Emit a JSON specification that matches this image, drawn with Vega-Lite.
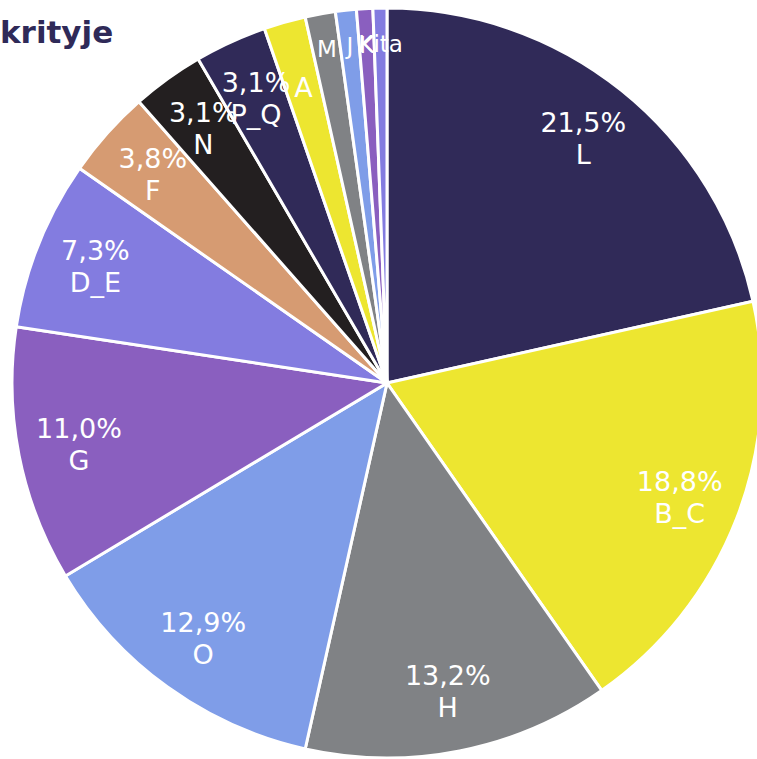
{
  "$schema": "https://vega.github.io/schema/vega-lite/v6.json",
  "autosize": "none",
  "padding": 0,
  "width": 774,
  "height": 766,
  "background": "white",
  "title": {"text": "krityje", "anchor": "start", "frame": "group", "orient": "top", "offset": -50, "font": "DejaVu Sans", "fontSize": 31, "fontWeight": "bold", "color": "#2f2a58"},
  "data": {"values": [
    {"name": "L", "pct": 21.5, "lab": "21,5%\nL", "ord": 1},
    {"name": "B_C", "pct": 18.8, "lab": "18,8%\nB_C", "ord": 2},
    {"name": "H", "pct": 13.2, "lab": "13,2%\nH", "ord": 3},
    {"name": "O", "pct": 12.9, "lab": "12,9%\nO", "ord": 4},
    {"name": "G", "pct": 11.0, "lab": "11,0%\nG", "ord": 5},
    {"name": "D_E", "pct": 7.3, "lab": "7,3%\nD_E", "ord": 6},
    {"name": "F", "pct": 3.8, "lab": "3,8%\nF", "ord": 7},
    {"name": "N", "pct": 3.1, "lab": "3,1%\nN", "ord": 8},
    {"name": "P_Q", "pct": 3.1, "lab": "3,1%\nP_Q", "ord": 9},
    {"name": "A", "pct": 1.8, "lab": "A", "ord": 10},
    {"name": "M", "pct": 1.3, "lab": "M", "ord": 11},
    {"name": "J", "pct": 0.9, "lab": "J", "ord": 12},
    {"name": "K", "pct": 0.7, "lab": "K", "ord": 13},
    {"name": "Kita", "pct": 0.6, "lab": "Kita", "ord": 14}
  ]},
  "encoding": {
    "theta": {"field": "pct", "type": "quantitative", "stack": true},
    "order": {"field": "ord", "type": "quantitative"}
  },
  "layer": [
    {
      "mark": {"type": "arc", "outerRadius": 375, "stroke": "white", "strokeWidth": 3},
      "encoding": {
        "color": {"field": "name", "type": "nominal", "legend": null,
          "scale": {
            "domain": ["L", "B_C", "H", "O", "G", "D_E", "F", "N", "P_Q", "A", "M", "J", "K", "Kita"],
            "range": ["#302a58", "#ede630", "#808285", "#7f9de8", "#8a5fbf", "#837ce0", "#d69b72", "#231f20", "#302a58", "#ede630", "#808285", "#7f9de8", "#8a5fbf", "#837ce0"]
          }}
      }
    },
    {
      "mark": {"type": "text", "radius": 314, "dy": -14, "fill": "white", "font": "DejaVu Sans", "fontSize": 27, "lineBreak": "\n", "lineHeight": 32, "baseline": "middle"},
      "encoding": {
        "text": {"condition": {"test": "datum.pct >= 3", "field": "lab"}, "value": ""}
      }
    },
    {
      "mark": {"type": "text", "radius": 306, "fill": "white", "font": "DejaVu Sans", "fontSize": 27, "baseline": "middle"},
      "encoding": {
        "text": {"condition": {"test": "datum.pct < 3 && datum.pct >= 1.5", "field": "lab"}, "value": ""}
      }
    },
    {
      "mark": {"type": "text", "radius": 338, "fill": "white", "font": "DejaVu Sans", "fontSize": 23, "baseline": "middle"},
      "encoding": {
        "text": {"condition": {"test": "datum.pct < 1.5", "field": "lab"}, "value": ""}
      }
    }
  ]
}
